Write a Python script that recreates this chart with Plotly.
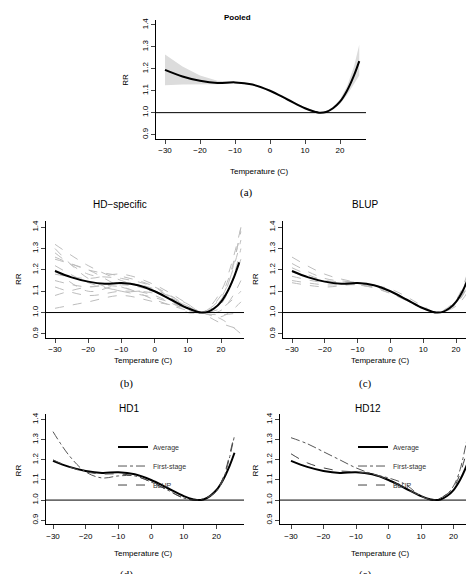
import plotly.graph_objects as go

W, H = 474, 574

# ---- data ----
temp = [-30, -25, -20, -15, -10, -5, 0, 5, 10, 13, 14, 16, 18, 20, 22, 24, 25.5]
rr_avg = [1.195, 1.165, 1.145, 1.135, 1.138, 1.128, 1.10, 1.06, 1.02, 1.003, 1.0, 1.003, 1.02, 1.05, 1.10, 1.17, 1.235]
ci_low = [1.125, 1.128, 1.13, 1.13, 1.134, 1.125, 1.097, 1.056, 1.016, 1.0, 0.998, 1.0, 1.014, 1.04, 1.08, 1.13, 1.17]
ci_high = [1.265, 1.21, 1.17, 1.145, 1.142, 1.131, 1.103, 1.064, 1.024, 1.006, 1.002, 1.006, 1.026, 1.06, 1.12, 1.21, 1.31]

grid = [-30, -20, -10, 0, 10, 14, 20, 26]
hd_specific = [
    [1.32, 1.22, 1.15, 1.10, 1.02, 1.0, 0.97, 0.90],
    [1.28, 1.18, 1.16, 1.12, 1.03, 1.0, 1.08, 1.38],
    [1.25, 1.20, 1.12, 1.08, 1.01, 1.0, 1.04, 1.30],
    [1.22, 1.14, 1.10, 1.07, 1.02, 1.0, 1.02, 1.10],
    [1.20, 1.10, 1.13, 1.10, 1.03, 1.0, 1.06, 1.40],
    [1.18, 1.16, 1.18, 1.13, 1.04, 1.0, 0.99, 1.00],
    [1.15, 1.12, 1.14, 1.11, 1.02, 1.0, 1.05, 1.25],
    [1.12, 1.08, 1.10, 1.09, 1.03, 1.0, 0.95, 0.92],
    [1.08, 1.12, 1.12, 1.06, 1.01, 1.0, 1.07, 1.34],
    [1.02, 1.05, 1.08, 1.05, 1.02, 1.0, 1.01, 1.15],
    [1.30, 1.16, 1.10, 1.10, 1.04, 1.0, 1.10, 1.40],
    [1.26, 1.20, 1.17, 1.12, 1.00, 1.0, 0.98, 1.05],
]
blup = [
    [1.26, 1.18, 1.14, 1.11, 1.03, 1.0, 1.05, 1.32],
    [1.23, 1.16, 1.14, 1.10, 1.02, 1.0, 1.06, 1.33],
    [1.21, 1.15, 1.13, 1.10, 1.02, 1.0, 1.05, 1.28],
    [1.19, 1.15, 1.14, 1.10, 1.02, 1.0, 1.04, 1.24],
    [1.17, 1.14, 1.14, 1.09, 1.02, 1.0, 1.04, 1.20],
    [1.15, 1.13, 1.13, 1.10, 1.02, 1.0, 1.03, 1.16],
    [1.14, 1.12, 1.13, 1.09, 1.02, 1.0, 1.04, 1.22],
]

t_hd = [-30, -25, -20, -15, -10, -5, 0, 5, 10, 14, 18, 20, 22, 25.5]
hd1_first = [1.34, 1.22, 1.14, 1.11, 1.12, 1.12, 1.09, 1.05, 1.01, 1.0, 1.02, 1.045, 1.10, 1.32]
hd1_blup = [1.20, 1.165, 1.14, 1.13, 1.13, 1.12, 1.09, 1.05, 1.01, 1.0, 1.02, 1.05, 1.11, 1.33]
hd12_first = [1.31, 1.28, 1.24, 1.20, 1.16, 1.13, 1.11, 1.08, 1.02, 1.0, 1.03, 1.07, 1.15, 1.42]
hd12_blup = [1.23, 1.185, 1.16, 1.145, 1.14, 1.13, 1.10, 1.06, 1.02, 1.0, 1.03, 1.06, 1.13, 1.33]

xticks = [-30, -20, -10, 0, 10, 20]
yticks = [0.9, 1.0, 1.1, 1.2, 1.3, 1.4]

FONT = "Liberation Sans"
fig = go.Figure()

# panel geometry in pixels: left, right, top, bottom, px of -30, px per deg, px of 1.4, px of 0.9
panels = {
    "a": (148, 358, 10, 129, 157, 3.5, 15, 125),
    "b": (38, 236, 212, 329, 47, 3.32, 218, 325),
    "c": (275, 472, 212, 329, 284, 3.28, 218, 325),
    "d": (38, 236, 405, 516, 45, 3.27, 411, 512),
    "e": (272, 472, 405, 516, 283, 3.25, 411, 512),
}
names = list(panels)
for i, k in enumerate(names):
    L, R, T, B, x30, ppd, y14, y09 = panels[k]
    xr = [-30 + (L - x30) / ppd, -30 + (R - x30) / ppd]
    upp = 0.5 / (y09 - y14)
    yr = [0.9 - (B - y09) * upp, 1.4 + (y14 - T) * upp]
    sfx = "" if i == 0 else str(i + 1)
    fig.update_layout(**{
        "xaxis" + sfx: dict(domain=[L / W, R / W], range=xr, anchor="y" + sfx,
                            tickvals=xticks, ticks="outside", ticklen=4, showline=True,
                            linecolor="black", showgrid=False, zeroline=False,
                            tickfont=dict(size=8, family=FONT, color="black")),
        "yaxis" + sfx: dict(domain=[1 - B / H, 1 - T / H], range=yr, anchor="x" + sfx,
                            tickvals=yticks, ticktext=[f"{v:.1f}" for v in yticks],
                            tickangle=-90, ticks="outside", ticklen=4, showline=True,
                            linecolor="black", showgrid=False, zeroline=False,
                            tickfont=dict(size=8, family=FONT, color="black")),
    })
    fig.add_shape(type="line", xref="x" + sfx + " domain", yref="y" + sfx,
                  x0=0, x1=1, y0=1, y1=1, line=dict(color="black", width=1))

def ax(i):
    return ("x", "y") if i == 0 else ("x" + str(i + 1), "y" + str(i + 1))

# (a) pooled
xa, ya = ax(0)
fig.add_trace(go.Scatter(x=temp + temp[::-1], y=ci_high + ci_low[::-1], fill="toself",
                         fillcolor="#dcdcdc", line=dict(width=0), xaxis=xa, yaxis=ya, showlegend=False))
fig.add_trace(go.Scatter(x=temp, y=rr_avg, mode="lines", line=dict(color="black", width=2, shape="spline"),
                         xaxis=xa, yaxis=ya, showlegend=False))

# (b) HD-specific, (c) BLUP
for i, curves in [(1, hd_specific), (2, blup)]:
    xa, ya = ax(i)
    for c in curves:
        fig.add_trace(go.Scatter(x=grid, y=c, mode="lines",
                                 line=dict(color="#bdbdbd", width=1, dash="dash", shape="spline"),
                                 xaxis=xa, yaxis=ya, showlegend=False))
    fig.add_trace(go.Scatter(x=temp, y=rr_avg, mode="lines", line=dict(color="black", width=2, shape="spline"),
                             xaxis=xa, yaxis=ya, showlegend=False))

# (d) HD1, (e) HD12
for i, first, bl, lg in [(3, hd1_first, hd1_blup, "legend"), (4, hd12_first, hd12_blup, "legend2")]:
    xa, ya = ax(i)
    fig.add_trace(go.Scatter(x=temp, y=rr_avg, name="Average", mode="lines", legend=lg,
                             line=dict(color="black", width=2, shape="spline"), xaxis=xa, yaxis=ya))
    fig.add_trace(go.Scatter(x=t_hd, y=first, name="First-stage", mode="lines", legend=lg,
                             line=dict(color="#555555", width=1, dash="dashdot", shape="spline"), xaxis=xa, yaxis=ya))
    fig.add_trace(go.Scatter(x=t_hd, y=bl, name="BLUP", mode="lines", legend=lg,
                             line=dict(color="#444444", width=1, dash="dash", shape="spline"), xaxis=xa, yaxis=ya))

leg = dict(font=dict(size=7, family=FONT, color="#333"), bgcolor="rgba(0,0,0,0)",
           tracegroupgap=0, itemwidth=30, xanchor="left", yanchor="top")
fig.update_layout(legend=dict(leg, x=105 / W, y=1 - 424 / H),
                  legend2=dict(leg, x=345 / W, y=1 - 424 / H))

anns = [
    ("<b>Pooled</b>", 229, 8, 8, FONT, 0), ("HD\u2212specific", 112, 195, 10, FONT, 0),
    ("BLUP", 357, 195, 10, FONT, 0), ("HD1", 121, 400, 10, FONT, 0), ("HD12", 360, 400, 10, FONT, 0),
    ("(a)", 238, 183, 11, "Liberation Serif", 0), ("(b)", 118, 375, 11, "Liberation Serif", 0),
    ("(c)", 357, 375, 11, "Liberation Serif", 0), ("(d)", 118, 566, 11, "Liberation Serif", 0),
    ("(e)", 357, 566, 11, "Liberation Serif", 0),
    ("Temperature (C)", 252, 162, 8, FONT, 0), ("Temperature (C)", 135, 352, 8, FONT, 0),
    ("Temperature (C)", 372, 352, 8, FONT, 0), ("Temperature (C)", 135, 545, 8, FONT, 0),
    ("Temperature (C)", 372, 545, 8, FONT, 0),
    ("RR", 118, 70, 8, FONT, -90), ("RR", 10, 270, 8, FONT, -90), ("RR", 247, 270, 8, FONT, -90),
    ("RR", 10, 462, 8, FONT, -90), ("RR", 247, 462, 8, FONT, -90),
]
for txt, x, y, s, f, a in anns:
    fig.add_annotation(text=txt, x=x / W, y=1 - y / H, xref="paper", yref="paper", showarrow=False,
                       xanchor="center", yanchor="middle",
                       font=dict(size=s, family=f, color="black"), textangle=a)

fig.update_layout(width=W, height=H, margin=dict(l=0, r=0, t=0, b=0),
                  plot_bgcolor="white", paper_bgcolor="white")
fig.write_html("out.html")
